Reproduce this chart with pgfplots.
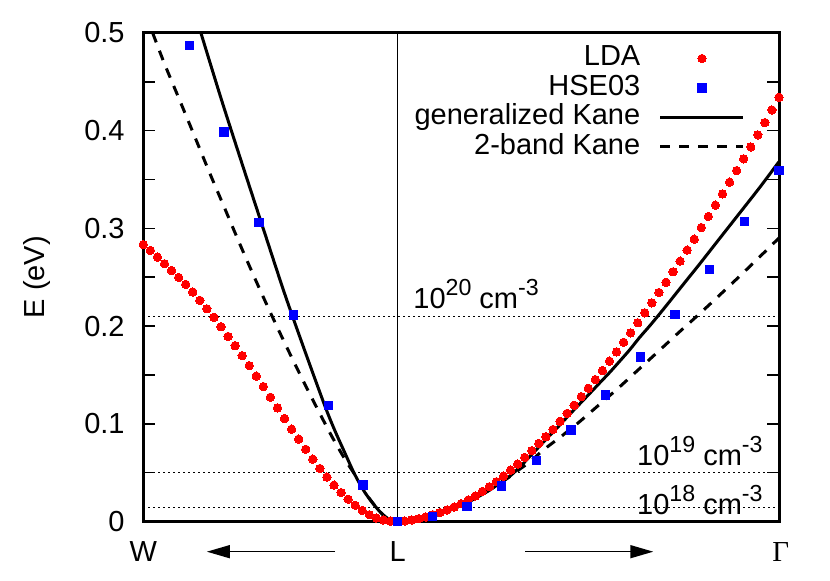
\documentclass[border=0pt]{standalone}
\usepackage{fontspec}
\setmainfont{Liberation Sans}
\newfontfamily\greekserif{Liberation Serif}
\usepackage{pgfplots}
\pgfplotsset{compat=1.18}
\usetikzlibrary{arrows.meta}
\pgfplotsset{
  marklegend/.style={legend image code/.code={\path[draw=none,fill=none] (0pt,0pt) -- (41.5pt,0pt); \draw[##1, only marks] plot coordinates {(20.75pt,0pt)};}},
  linelegend/.style={legend image code/.code={\draw[##1] (0pt,0pt) -- (41.5pt,0pt);}},
}
\newcommand{\sups}[1]{\raisebox{6.5pt}{\fontsize{11.6}{12}\selectfont #1}}
\begin{document}
\fontsize{14.5}{17.4}\selectfont
\begin{tikzpicture}
\useasboundingbox (-71.65pt,-29.75pt) rectangle (343.35pt,260.75pt);
\begin{axis}[
  at={(0,0)}, anchor=south west,
  scale only axis, width=317.85pt, height=244.25pt,
  xmin=-36, xmax=54, ymin=0, ymax=0.5,
  clip=false,
  axis line style={line width=1.5pt},
  xtick=\empty,
  ytick={0,0.1,0.2,0.3,0.4,0.5},
  minor ytick={0.05,0.15,0.25,0.35,0.45},
  ytick pos=both, yticklabel pos=left,
  tick align=inside,
  major tick length=6pt, minor tick length=6pt,
  every tick/.style={black, line width=0.75pt},
  yticklabel style={anchor=east, inner sep=0pt, xshift=-9.15pt},
  /pgf/number format/assume math mode=true,
  ylabel={E (eV)},
  ylabel style={at={(axis description cs:-0.167,0.5)}, anchor=center},
  legend style={at={(1,1)}, anchor=north east, xshift=-17pt, yshift=-6pt,
    draw=none, fill=none, inner sep=0pt, outer sep=0pt,
    row sep=1.2pt, column sep=9.35pt,
    nodes={inner sep=0pt, text height=10.5pt, text depth=3pt}},
  legend cell align=right,
  legend plot pos=right,
]
% reference lines
\addplot[black, line width=0.8pt, dash pattern=on 0.8pt off 1.7pt, forget plot] coordinates {(-36,0.21) (54,0.21)};
\addplot[black, line width=0.8pt, dash pattern=on 0.8pt off 1.7pt, forget plot] coordinates {(-36,0.05) (54,0.05)};
\addplot[black, line width=0.8pt, dash pattern=on 0.8pt off 1.7pt, forget plot] coordinates {(-36,0.0145) (54,0.0145)};
\addplot[black, line width=0.75pt, forget plot] coordinates {(0,0) (0,0.5)};

% LDA
\addplot[red, only marks, mark=*, mark size=2.1pt, mark options={draw=red, fill=red, line width=0pt}, marklegend]
coordinates {
(-36,0.2835) (-35,0.2774) (-34,0.2706) (-33,0.2638) (-32,0.2569) (-31,0.2498)
(-30,0.2427) (-29,0.2349) (-28,0.2263) (-27,0.2177) (-26,0.2090) (-25,0.1993)
(-24,0.1894) (-23,0.1799) (-22,0.1697) (-21,0.1595) (-20,0.1488) (-19,0.1381)
(-18,0.1272) (-17,0.1163) (-16,0.1054) (-15,0.0945) (-14,0.0843) (-13,0.0739)
(-12,0.0638) (-11,0.0543) (-10,0.0455) (-9,0.0372) (-8,0.0296) (-7,0.0228)
(-6,0.0166) (-5,0.0113) (-4,0.0069) (-3,0.0036) (-2,0.0015) (-1,0.0004)
(0,0)
(1,0.0005) (2,0.0016) (3,0.0029) (4,0.0046) (5,0.0069) (6,0.0092) (7,0.0118)
(8,0.0148) (9,0.0182) (10,0.0220) (11,0.0261) (12,0.0308) (13,0.0356)
(14,0.0407) (15,0.0465) (16,0.0526) (17,0.0588) (18,0.0656) (19,0.0725)
(20,0.0799) (21,0.0868) (22,0.0942) (23,0.1025) (24,0.1107) (25,0.1190)
(26,0.1278) (27,0.1364) (28,0.1452) (29,0.1545) (30,0.1641) (31,0.1736)
(32,0.1834) (33,0.1931) (34,0.2034) (35,0.2136) (36,0.2238) (37,0.2344)
(38,0.2448) (39,0.2556) (40,0.2665) (41,0.2778) (42,0.2890) (43,0.3009)
(44,0.3122) (45,0.3238) (46,0.3353) (47,0.3473) (48,0.3592) (49,0.3712)
(50,0.3834) (51,0.3957) (52,0.4083) (53,0.4212) (54,0.4342)
};
\addlegendentry{LDA}

% HSE03
\addplot[blue, only marks, mark=square*, mark size=2.1pt, mark options={draw=blue, fill=blue, line width=0pt}, marklegend]
coordinates {
(-29.45,0.4875) (-24.55,0.3988) (-19.64,0.3062) (-14.73,0.2112) (-9.82,0.1185) (-4.91,0.0375)
(0,0)
(4.91,0.0049) (9.82,0.0155) (14.73,0.0363) (19.64,0.0625) (24.55,0.0935) (29.45,0.1293)
(34.36,0.1685) (39.27,0.2118) (44.18,0.2580) (49.09,0.3070) (54,0.3592)
};
\addlegendentry{HSE03}

% generalized Kane
\addplot[black, line width=1.5pt, smooth, linelegend]
coordinates {
(-27.84,0.5) (-24.93,0.4316) (-21.95,0.3647) (-18.98,0.2990) (-16.01,0.2336)
(-13.17,0.1754) (-10.34,0.1192) (-8.92,0.0937) (-7.51,0.0710) (-6.09,0.0485)
(-4.67,0.0302) (-3.26,0.0164) (-2.12,0.0072) (-1.13,0.0018) (0,0)
(1.70,0.0006) (3.12,0.0021) (4.53,0.0044) (5.95,0.0076) (7.37,0.0114)
(8.78,0.0158) (10.20,0.0207) (11.61,0.0261) (13.03,0.0322) (14.45,0.0390)
(15.86,0.0462) (17.28,0.0555) (18.70,0.0664) (20.11,0.0771) (21.53,0.0879)
(22.95,0.0986) (24.36,0.1096) (25.78,0.1203) (27.20,0.1310) (28.61,0.1418)
(30.03,0.1526) (31.44,0.1640) (32.86,0.1757) (34.28,0.1885) (35.69,0.2002)
(37.11,0.2126) (38.53,0.2253) (39.94,0.2381) (41.36,0.2509) (42.78,0.2637)
(45.61,0.2898) (48.44,0.3158) (51.27,0.3419) (54,0.3683)
};
\addlegendentry{generalized Kane}

% 2-band Kane
\addplot[black, line width=1.5pt, dash pattern=on 5pt off 4.5pt, smooth, linelegend]
coordinates {
(-34.67,0.5) (-33.00,0.4685) (-30.88,0.4317) (-28.75,0.3945) (-26.63,0.3572)
(-24.50,0.3210) (-22.38,0.2848) (-20.25,0.2496) (-18.13,0.2158) (-16.01,0.1832)
(-13.88,0.1515) (-12.46,0.1309) (-11.05,0.1111) (-9.63,0.0914) (-8.22,0.0731)
(-6.80,0.0562) (-5.38,0.0409) (-4.67,0.0305) (-3.26,0.0166) (-2.12,0.0073)
(-1.13,0.0018) (0,0)
(1.70,0.0006) (3.12,0.0021) (4.53,0.0044) (5.95,0.0076) (7.37,0.0114)
(8.78,0.0158) (10.20,0.0207) (11.61,0.0261) (13.03,0.0322) (14.45,0.0390)
(15.86,0.0458) (17.28,0.0535) (18.70,0.0608) (20.11,0.0699) (21.53,0.0782)
(22.95,0.0858) (24.36,0.0940) (25.78,0.1022) (27.66,0.1140) (29.56,0.1259)
(31.44,0.1378) (34.28,0.1566) (37.11,0.1754) (39.94,0.1943) (42.78,0.2128)
(46.08,0.2350) (49.86,0.2610) (54,0.2902)
};
\addlegendentry{2-band Kane}

% annotations
\node[anchor=base west, inner sep=0pt] at (axis cs:2.18,0.2175) {10\sups{20} cm\sups{-3}};
\node[anchor=base east, inner sep=0pt] at (axis cs:51.73,0.0568) {10\sups{19} cm\sups{-3}};
\node[anchor=base east, inner sep=0pt] at (axis cs:51.73,0.0067) {10\sups{18} cm\sups{-3}};
\node[anchor=base, yshift=-20.1pt] at (axis cs:-36,0) {W};
\node[anchor=base, yshift=-20.1pt] at (axis cs:0,0) {L};
\node[anchor=base, yshift=-20.1pt] at (axis cs:54.25,0) {\greekserif Γ};
\draw[line width=0.75pt, -{Triangle[length=11.5pt, width=6.5pt]}]
  ([yshift=-15.1pt]axis cs:-8.85,0) -- ([yshift=-15.1pt]axis cs:-27,0);
\draw[line width=0.75pt, -{Triangle[length=11.5pt, width=6.5pt]}]
  ([yshift=-15.1pt]axis cs:18.04,0) -- ([yshift=-15.1pt]axis cs:36.2,0);
\end{axis}
\end{tikzpicture}
\end{document}
